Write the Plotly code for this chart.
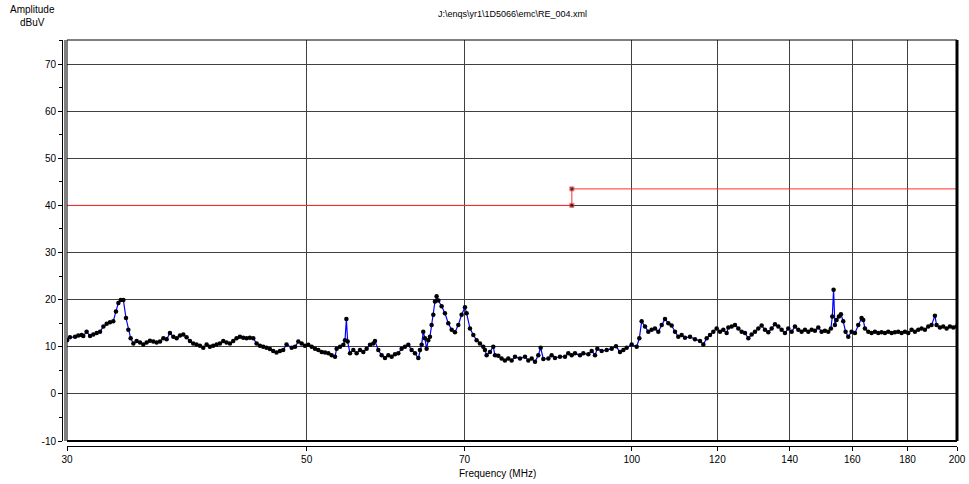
import plotly.graph_objects as go

# Measured trace: frequency (MHz) and amplitude (dBuV)
freq_mhz = [
    30.00, 30.19, 30.52, 30.73, 30.95, 31.06, 31.28, 31.51, 31.73, 31.96,
    32.19, 32.42, 32.65, 32.88, 33.11, 33.30, 33.47, 33.64, 33.83, 34.02,
    34.19, 34.36, 34.56, 34.80, 35.05, 35.30, 35.55, 35.80, 36.06, 36.32,
    36.58, 36.84, 37.10, 37.36, 37.63, 37.90, 38.17, 38.44, 38.71, 38.99,
    39.26, 39.54, 39.83, 40.11, 40.40, 40.68, 40.97, 41.27, 41.56, 41.86,
    42.15, 42.46, 42.76, 43.06, 43.37, 43.68, 43.99, 44.30, 44.62, 44.94,
    45.26, 45.58, 45.90, 46.23, 46.56, 46.89, 47.23, 47.56, 47.90,
    48.43, 48.78, 49.12, 49.47, 49.82, 50.18, 50.54, 50.90, 51.26, 51.63,
    52.00, 52.37, 52.74, 53.12, 53.30, 53.69, 54.07, 54.26, 54.42, 54.57,
    54.84, 55.23, 55.62, 56.02, 56.42, 56.82, 57.23, 57.63, 57.84, 58.25,
    58.67, 59.09, 59.51, 59.93, 60.36, 60.79, 61.22, 61.66, 62.10, 62.54,
    62.99, 63.44, 63.66, 63.89, 64.11, 64.34, 64.57, 64.80, 65.03, 65.26,
    65.50, 65.73, 65.96, 66.20, 66.67, 67.14, 67.62, 68.11, 68.59, 69.08,
    69.57, 70.07, 70.32, 70.82, 71.33, 71.83, 72.34, 72.86, 73.12, 73.38,
    73.90, 74.43, 74.70, 75.23, 75.76, 76.30, 76.85, 77.40,
    77.96, 78.79, 79.64, 80.20, 80.78, 81.35, 81.93, 82.34, 82.81, 83.70,
    84.29, 84.89, 85.80, 86.72, 87.34, 87.97, 88.59, 89.54, 90.18, 91.15,
    91.80, 92.45, 92.91, 93.77, 94.78, 95.80, 96.69, 97.51, 98.21, 98.91,
    99.97, 101.04, 101.61, 102.12, 102.85, 103.58, 104.32, 105.06, 105.81, 106.57,
    107.33, 108.09, 108.86, 109.64, 110.42, 111.21, 112.00, 113.20, 114.41, 115.64,
    116.47, 117.30, 118.13, 118.97, 119.82, 120.68, 121.54, 122.40, 122.84, 123.72,
    124.60,
    125.49, 126.38, 127.28, 128.19, 129.10, 130.02, 130.95, 131.88, 132.82, 133.77,
    134.72, 135.68, 136.65, 137.62, 138.60, 139.59, 140.59, 141.59, 142.60, 143.61,
    144.64, 145.67, 146.71, 147.75, 148.80, 149.86, 150.93, 152.01, 152.87, 153.31,
    153.74, 154.17, 154.72, 155.49, 156.16, 156.93, 157.72, 158.62, 159.75, 160.89,
    162.04, 163.19, 163.77, 164.36, 165.53, 166.71, 167.90, 169.10, 170.30, 171.51,
    172.74, 173.97, 175.21, 176.46, 177.72, 178.99, 180.26, 181.55, 182.84, 184.15,
    185.46, 186.78, 188.11, 189.45, 190.80, 191.48, 192.85, 194.22, 195.61, 197.00,
    198.41, 199.82,
]
amp_dbuv = [
    11.4, 12.0, 12.1, 12.4, 12.5, 12.3, 13.2, 12.3, 12.6, 12.9,
    13.2, 14.3, 14.9, 15.2, 15.4, 17.5, 19.3, 19.9, 19.9, 16.1,
    13.6, 11.8, 10.7, 11.2, 10.9, 10.5, 10.9, 11.3, 11.1, 10.9,
    11.1, 11.8, 11.6, 12.9, 12.1, 11.8, 12.4, 12.6, 12.0, 11.2,
    10.7, 10.5, 10.2, 9.8, 10.5, 10.0, 10.2, 10.5, 10.7, 11.2,
    10.9, 10.7, 11.2, 11.8, 12.1, 11.9, 11.8, 11.9, 11.8, 10.7,
    10.2, 10.0, 9.8, 9.5, 9.1, 8.8, 9.1, 9.3, 10.5,
    9.8, 10.0, 11.1, 10.7, 10.2, 10.4, 10.0, 9.6, 9.3, 8.9,
    8.8, 8.6, 8.2, 7.9, 9.6, 10.0, 10.4, 11.4, 15.9, 11.1,
    8.6, 9.3, 8.6, 9.3, 8.9, 9.6, 10.4, 10.7, 11.2, 9.3,
    8.2, 7.6, 8.2, 7.9, 8.4, 8.6, 9.6, 10.0, 10.4, 9.3,
    8.6, 7.6, 9.3, 10.4, 13.2, 11.8, 9.6, 11.4, 12.1, 14.6,
    16.8, 19.6, 20.7, 19.8, 18.6, 17.1, 15.0, 13.6, 13.1, 14.6,
    16.8, 18.4, 17.1, 13.9, 12.5, 11.4, 10.7, 10.0, 9.3, 8.2,
    8.9, 10.0, 8.2, 8.1, 7.5, 7.1, 7.5, 7.1,
    7.9, 7.5, 7.9, 7.1, 7.5, 6.8, 8.2, 9.8, 7.4, 7.5,
    8.2, 7.6, 7.9, 7.9, 8.6, 8.2, 8.6, 8.2, 8.6, 8.4,
    9.1, 8.2, 9.6, 9.1, 9.3, 9.6, 10.1, 8.9, 9.3, 9.8,
    10.5, 10.0, 11.8, 15.4, 14.3, 13.2, 13.6, 13.9, 13.2, 14.6,
    15.9, 15.0, 14.5, 13.2, 12.1, 12.5, 11.9, 12.1, 11.6, 11.2,
    10.5, 11.8, 12.5, 13.2, 13.9, 13.2, 13.6, 12.9, 14.1, 14.3,
    14.6,
    13.9, 13.2, 12.9, 11.8, 12.6, 13.2, 13.9, 14.5, 13.6, 13.1,
    13.9, 14.8, 14.3, 13.6, 12.9, 13.9, 13.2, 14.3, 13.6, 13.2,
    13.6, 13.2, 13.6, 13.4, 14.1, 13.2, 13.4, 13.2, 13.9, 16.4,
    22.1, 14.6, 15.7, 16.4, 16.9, 15.4, 13.2, 12.1, 13.2, 12.9,
    14.6, 16.1, 15.7, 13.9, 13.2, 12.9, 13.2, 12.9, 13.1, 12.9,
    13.2, 12.9, 13.1, 13.2, 12.9, 13.2, 12.9, 13.6, 13.2, 13.6,
    13.9, 13.6, 14.3, 14.6, 16.6, 14.6, 14.1, 14.3, 13.9, 14.3,
    14.1, 14.3,
]

# Limit line
limit_freq = [30, 88, 88, 200]
limit_amp = [40, 40, 43.5, 43.5]
limit_marker_size = [0, 4, 4, 0]

# Axis ticks
x_tickvals = [30, 50, 70, 100, 120, 140, 160, 180, 200]
x_ticktext = ["30", "50", "70", "100", "120", "140", "160", "180", "200"]
y_tickvals = [-10, 0, 10, 20, 30, 40, 50, 60, 70]
y_ticktext = ["-10", "0", "10", "20", "30", "40", "50", "60", "70"]

title_text = r"J:\enqs\yr1\1D5066\emc\RE_004.xml"
x_title = "Frequency (MHz)"
y_title = "Amplitude<br>dBuV"

FONT = "Liberation Sans, Arial, sans-serif"

fig = go.Figure()
fig.add_trace(go.Scatter(
    x=limit_freq, y=limit_amp, mode="lines+markers",
    line=dict(color="#ff3030", width=1),
    marker=dict(color="black", size=limit_marker_size, symbol="square"),
    showlegend=False, hoverinfo="skip",
))
fig.add_trace(go.Scatter(
    x=freq_mhz, y=amp_dbuv, mode="lines+markers",
    line=dict(color="#0000ff", width=1.2),
    marker=dict(color="black", size=4.5, symbol="circle"),
    showlegend=False,
))

W, H = 969, 484
ml, mr, mt, mb = 60, 12, 40, 36
pw = W - ml - mr
ph = H - mt - mb
x_dom0 = 7 / pw
y_dom0 = 7 / ph

fig.update_layout(
    template="none",
    width=W, height=H,
    margin=dict(l=ml, r=mr, t=mt, b=mb, pad=0, autoexpand=False),
    paper_bgcolor="white", plot_bgcolor="white",
    font=dict(family=FONT, size=10, color="black"),
    xaxis=dict(
        type="log", range=[1.4771213, 2.30103],
        domain=[x_dom0, 1], automargin=False,
        anchor="free", position=2.5 / ph,
        tickvals=x_tickvals, ticktext=x_ticktext,
        ticks="outside", ticklen=4, tickcolor="black", tickwidth=1,
        showline=True, linecolor="black", linewidth=1,
        showgrid=True, gridcolor="#404040", gridwidth=1,
        zeroline=False, tickfont=dict(size=10),
    ),
    yaxis=dict(
        range=[-10, 75.1],
        domain=[y_dom0, 1], automargin=False,
        anchor="free", position=2 / pw,
        tickvals=y_tickvals, ticktext=y_ticktext,
        ticks="outside", ticklen=4, tickcolor="black", tickwidth=1,
        minor=dict(dtick=5, tick0=0, ticks="outside", ticklen=3, tickcolor="black", showgrid=False),
        showline=True, linecolor="black", linewidth=1,
        showgrid=True, gridcolor="#404040", gridwidth=1,
        zeroline=False, tickfont=dict(size=10),
    ),
    shapes=[
        dict(type="rect", xref="x domain", yref="y domain", x0=0, x1=1, y0=0, y1=1,
             line=dict(color="black", width=1)),
        dict(type="line", xref="x domain", yref="y domain", x0=-2 / 890, x1=-2 / 890, y0=0, y1=1,
             line=dict(color="black", width=1)),
        dict(type="line", xref="x domain", yref="y domain", x0=1, x1=1, y0=0, y1=1,
             line=dict(color="black", width=3)),
        dict(type="line", xref="x domain", yref="y domain", x0=0, x1=1, y0=0, y1=0,
             line=dict(color="black", width=2)),
    ],
    annotations=[
        dict(text=title_text, xref="x domain", yref="y domain", x=0.5, y=1,
             xanchor="center", yanchor="middle", yshift=26, showarrow=False,
             font=dict(size=9)),
        dict(text=y_title, xref="x domain", yref="y domain", x=0, y=1,
             xanchor="center", yanchor="middle", xshift=-35, yshift=24, showarrow=False,
             align="center", font=dict(size=10)),
        dict(text=x_title, xref="x domain", yref="y domain", x=0.484, y=0,
             xanchor="center", yanchor="middle", yshift=-32, showarrow=False,
             font=dict(size=10)),
    ],
)

fig.write_html(
    "out.html",
    config={"displayModeBar": False},
    post_script="document.body.style.margin='0';document.body.style.padding='0';",
)
